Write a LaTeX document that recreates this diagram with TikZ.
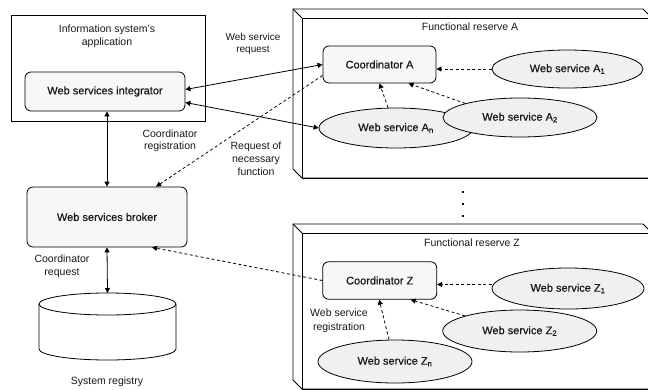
\documentclass[tikz,border=0pt]{standalone}
\usepackage{fontspec}
\setmainfont{Liberation Sans}
\newfontfamily\nodefont[FakeBold=0.6]{Liberation Sans}
\usetikzlibrary{arrows.meta,shapes.geometric,calc}
\begin{document}
\begin{tikzpicture}[x=1pt,y=-1pt, line width=0.8pt,
  every node/.style={text=black!90, align=center},
  box/.style={draw, rounded corners=6pt, fill=gray!6, inner sep=0, font=\nodefont\fontsize{11}{13}\selectfont},
  ell/.style={draw, ellipse, fill=gray!12, inner sep=0, font=\nodefont\fontsize{11}{13}\selectfont},
  lbl/.style={font=\fontsize{10}{12}\selectfont},
  plain/.style={inner sep=0, outer sep=0},
  dotm/.style={fill=black, rectangle, inner sep=0, minimum size=2.6pt},
  tip/.style={-{Triangle[length=5pt,width=5pt]}},
  darr/.style={{Triangle[length=5pt,width=5pt]}-{Triangle[length=5pt,width=5pt]}},
  dsh/.style={tip, dash pattern=on 3pt off 2.5pt},
]
\useasboundingbox (0,0) rectangle (648,389);
\clip (0,0) rectangle (648,389);

% application box
\node[draw, fill=white, plain, minimum width=194pt, minimum height=106pt] (app) at (108,68) {};
\node[font=\fontsize{10.5}{12.5}\selectfont] (apptxt) at (107,36.5) {Information system's\\application};
\node[box, minimum width=160pt, minimum height=39pt] (integ) at (105,91.5) {Web services integrator};
\node[box, minimum width=160pt, minimum height=60pt] (broker) at (107,217) {Web services broker};

% registry cylinder
\node[plain, minimum width=137pt, minimum height=67pt] (reg) at (107.5,326.5) {};
\draw[fill=white] ($(reg.north west)+(0,11)$) -- ($(reg.south west)+(0,-11)$)
  arc[start angle=180,end angle=360,x radius=68.5pt,y radius=11pt]
  -- ($(reg.north east)+(0,11)$)
  arc[start angle=0,end angle=180,x radius=68.5pt,y radius=11pt] -- cycle;
\draw ($(reg.north west)+(0,11)$) arc[start angle=180,end angle=360,x radius=68.5pt,y radius=11pt];
\node[lbl, font=\fontsize{10.5}{12.5}\selectfont] (regtxt) at (107,382) {System registry};

% functional reserve A
\node[plain, minimum width=350pt, minimum height=160pt] (fra) at (477,98) {};
\draw[fill=white] (fra.south west) -- ++(-9,-9) -- ($(fra.north west)+(-9,-9)$)
  -- ($(fra.north east)+(-9,-9)$) -- (fra.north east) -- (fra.south east) -- cycle;
\draw (fra.north west) rectangle (fra.south east);
\draw (fra.north west) -- ++(-9,-9);
\node[lbl, font=\fontsize{10.5}{12.5}\selectfont] (fratxt) at (470,27) {Functional reserve A};

% functional reserve Z
\node[plain, minimum width=350pt, minimum height=156pt] (frz) at (477,311) {};
\draw[fill=white] (frz.south west) -- ++(-9,-9) -- ($(frz.north west)+(-9,-9)$)
  -- ($(frz.north east)+(-9,-9)$) -- (frz.north east) -- (frz.south east) -- cycle;
\draw (frz.north west) rectangle (frz.south east);
\draw (frz.north west) -- ++(-9,-9);
\node[lbl, font=\fontsize{10.5}{12.5}\selectfont] (frztxt) at (472,243) {Functional reserve Z};

% coordinators and services A
\node[box, minimum width=113pt, minimum height=37pt] (coordA) at (379.5,64.5) {Coordinator A};
\node[ell, minimum width=151pt, minimum height=38pt] (A1) at (567.5,69) {Web service A\textsubscript{1}};
\node[ell, minimum width=154pt, minimum height=40pt] (An) at (396,128) {Web service A\textsubscript{n}};
\node[ell, minimum width=154pt, minimum height=39pt] (A2) at (520,117.5) {Web service A\textsubscript{2}};

% coordinators and services Z
\node[box, minimum width=114pt, minimum height=37.5pt] (coordZ) at (379.7,280.5) {Coordinator Z};
\node[ell, minimum width=152pt, minimum height=41pt] (Z1) at (568,288.5) {Web service Z\textsubscript{1}};
\node[ell, minimum width=154pt, minimum height=42pt] (Z2) at (519.7,331) {Web service Z\textsubscript{2}};
\node[ell, minimum width=154pt, minimum height=43pt] (Zn) at (395,361.5) {Web service Z\textsubscript{n}};

% dots
\node[dotm] (dot1) at (463,192) {};
\node[dotm] (dot2) at (463,204) {};
\node[dotm] (dot3) at (463,216) {};

% labels
\node[lbl] (wsreq) at (253,44) {Web service\\request};
\node[lbl, font=\fontsize{10.5}{12}\selectfont] (coreg) at (170,140.5) {Coordinator\\registration};
\node[lbl, font=\fontsize{10.5}{13}\selectfont] (reqnf) at (256,158.5) {Request of\\necessary\\function};
\node[lbl, font=\fontsize{10.5}{13}\selectfont] (coreq) at (62,266.5) {Coordinator\\request};
\node[lbl, font=\fontsize{10.5}{14}\selectfont] (wsregl) at (339,320.5) {Web service\\registration};

% connectors
\draw[darr] ([yshift=2pt]integ.east) -- (coordA.west);
\draw[darr] ([yshift=-11pt]integ.east) -- (An.west);
\draw[darr] (broker.north |- integ.south) -- (broker.north);
\draw[darr] (broker.south) -- (reg.north);
\draw[dsh] ([yshift=-11pt]coordA.west) -- ([xshift=49pt]broker.north);
\draw[dsh] (coordZ.west) -- ([xshift=45pt]broker.south);
\draw[dsh] (A1.west) -- (A1.west -| coordA.east);
\draw[dsh] (A2.north west) -- ([xshift=29pt]coordA.south);
\draw[dsh] ([xshift=-8pt]An.north) -- (coordA.south);
\draw[dsh] ([yshift=4pt]Z1.west) -- ([yshift=4pt]Z1.west -| coordZ.east);
\draw[dsh] (Z2.north west) -- ([xshift=31pt]coordZ.south);
\draw[dsh] ([xshift=-6pt]Zn.north) -- ([xshift=-0.5pt]coordZ.south);
\end{tikzpicture}
\end{document}
